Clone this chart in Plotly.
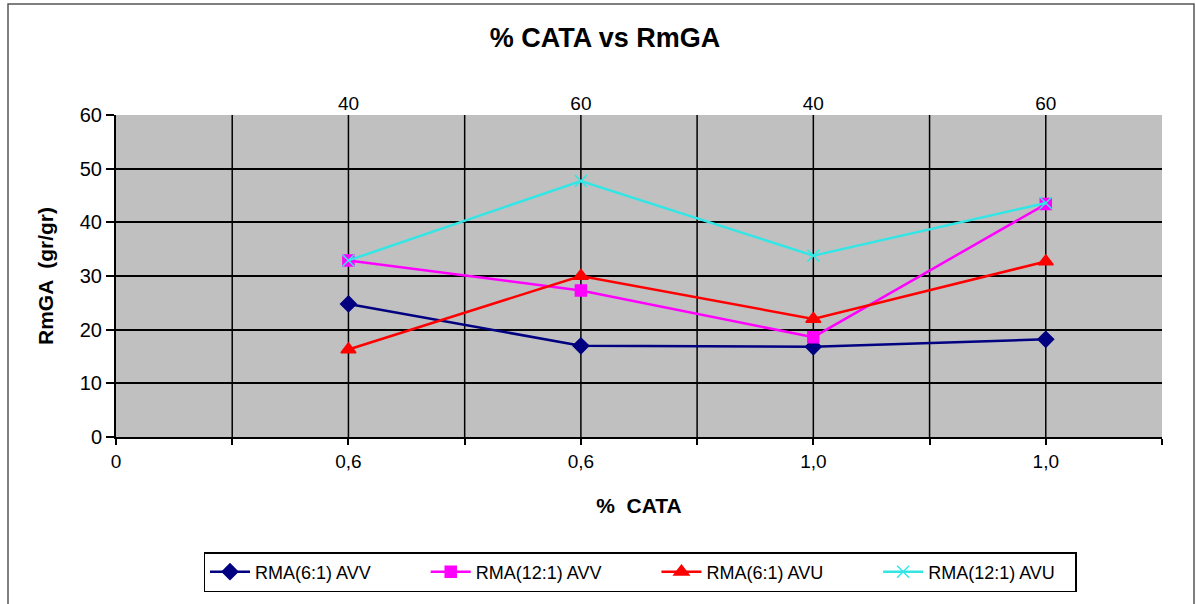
import plotly.graph_objects as go

x_pos = [2, 4, 6, 8]
bottom_tick_vals = [0, 2, 4, 6, 8]
bottom_tick_text = ["0", "0,6", "0,6", "1,0", "1,0"]
top_tick_text = ["40", "60", "40", "60"]

rma61_avv = [24.8, 17.0, 16.8, 18.2]
rma121_avv = [32.9, 27.3, 18.6, 43.4]
rma61_avu = [16.3, 30.0, 22.0, 32.7]
rma121_avu = [32.9, 47.7, 33.8, 43.6]

NB = "\u00a0"
series = [
    ("RMA(6:1) AVV" + NB * 10, rma61_avv, "#000080", "diamond", 12),
    ("RMA(12:1) AVV" + NB * 10, rma121_avv, "#FF00FF", "square", 11),
    ("RMA(6:1) AVU" + NB * 10, rma61_avu, "#FF0000", "triangle-up", 13),
    ("RMA(12:1) AVU" + NB * 3, rma121_avu, "#33E6E6", "x-thin-open", 12),
]

fig = go.Figure()
for name, vals, col, sym, sz in series:
    fig.add_trace(go.Scatter(
        x=x_pos, y=vals, name=name, mode="lines+markers",
        line=dict(color=col, width=2.5),
        marker=dict(symbol=sym, size=sz, color=col,
                    line=dict(color=col, width=1.5)),
    ))
# invisible trace for top axis
fig.add_trace(go.Scatter(x=x_pos, y=rma61_avv, xaxis="x2", showlegend=False,
                         mode="markers", marker=dict(opacity=0), hoverinfo="skip"))

W, H = 1196, 604
L, R, T, B = 116, 1162, 115, 437

def px(x):
    return (x - L) / (R - L)

def py(y):
    return (B - y) / (B - T)

FONT = "Liberation Sans, Arial, sans-serif"

fig.update_layout(
    width=W, height=H,
    margin=dict(l=L, r=W - R, t=T, b=H - B),
    paper_bgcolor="white",
    plot_bgcolor="#C0C0C0",
    font=dict(family=FONT, size=19, color="black"),
    title=dict(text="<b>% CATA vs RmGA</b>", x=605 / W, xanchor="center",
               y=1 - 38 / H, yanchor="middle", font=dict(size=27)),
    showlegend=True,
    legend=dict(orientation="h", x=px(640), xanchor="center", y=py(572), yanchor="middle",
                bordercolor="black", borderwidth=1.5, bgcolor="white",
                font=dict(size=18), itemwidth=40, traceorder="normal"),
    xaxis=dict(
        range=[0, 9], tickmode="array", tickvals=bottom_tick_vals, ticktext=bottom_tick_text,
        showgrid=False, zeroline=False, showline=True, linecolor="black", linewidth=2,
        ticks="outside", ticklen=6, tickcolor="black", tickwidth=1.5,
        tickfont=dict(size=19),
        minor=dict(tickvals=[1, 3, 5, 7, 9], ticks="outside", ticklen=6, tickcolor="black",
                   tickwidth=1.5, showgrid=False),
        title=dict(text="<b>%  CATA</b>", font=dict(size=21), standoff=28),
        fixedrange=True,
    ),
    xaxis2=dict(
        range=[0, 9], overlaying="x", side="top", tickmode="array",
        tickvals=x_pos, ticktext=top_tick_text, showgrid=False, zeroline=False,
        showline=False, ticks="", fixedrange=True, tickfont=dict(size=19),
    ),
    yaxis=dict(
        range=[0, 60], dtick=10, showgrid=True, gridcolor="black", gridwidth=1.5,
        zeroline=False, showline=True, linecolor="black", linewidth=2,
        ticks="outside", ticklen=8, tickcolor="black", tickwidth=1.5,
        tickfont=dict(size=20),
        title=dict(text="<b>RmGA  (gr/gr)</b>", font=dict(size=21), standoff=20),
        fixedrange=True,
    ),
    shapes=[
        *[dict(type="line", xref="x", yref="paper", x0=v, x1=v, y0=0, y1=1,
               line=dict(color="black", width=1.5), layer="below") for v in range(1, 9)],
        dict(type="rect", xref="paper", yref="paper",
             x0=px(8), x1=px(1194), y0=py(4), y1=py(610),
             line=dict(color="#555555", width=1.5)),
    ],
)

fig.write_html("out.html")
